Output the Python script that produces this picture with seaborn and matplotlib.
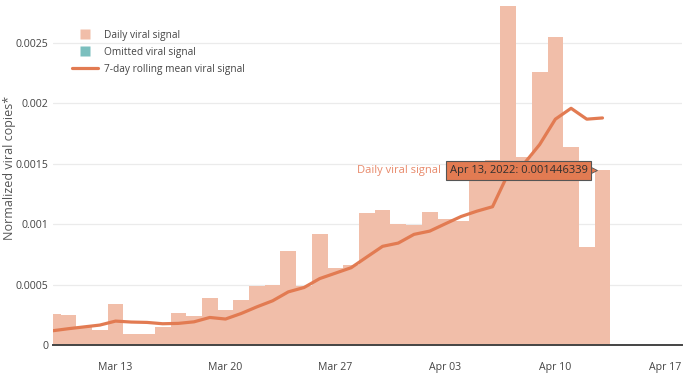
import matplotlib
matplotlib.use("Agg")
import matplotlib.pyplot as plt
import matplotlib.transforms as mtransforms
from matplotlib.lines import Line2D
import seaborn as sns
import pandas as pd

# daily values, Mar 9 .. Apr 13 2022
start = "2022-03-09"
daily_signal = [0.000256, 0.000248, 0.00015, 0.000125, 0.00034, 0.00009, 0.00009,
                0.00015, 0.000263, 0.00024, 0.00039, 0.00029, 0.00037, 0.00049,
                0.0005, 0.00078, 0.00049, 0.00092, 0.00064, 0.000665, 0.00109,
                0.00112, 0.001, 0.00099, 0.0011, 0.00104, 0.00103, 0.00144,
                0.00153, 0.00281, 0.00156, 0.00226, 0.00255, 0.00164, 0.00081,
                0.001446339]
rolling_mean = [0.000118, 0.000135, 0.00015, 0.000165, 0.000198, 0.00019, 0.000187,
                0.000176, 0.000179, 0.000192, 0.000228, 0.000215, 0.000261, 0.000316,
                0.000366, 0.00044, 0.000476, 0.00055, 0.000595, 0.00064, 0.000729,
                0.000817, 0.000844, 0.000916, 0.000943, 0.001004, 0.001064, 0.001108,
                0.001145, 0.00142, 0.0015, 0.00166, 0.00187, 0.00196, 0.00187,
                0.00188]
x_ticks = ["2022-03-13", "2022-03-20", "2022-03-27", "2022-04-03", "2022-04-10", "2022-04-17"]
x_labels = ["Mar 13", "Mar 20", "Mar 27", "Apr 03", "Apr 10", "Apr 17"]
y_ticks = [0, 0.0005, 0.001, 0.0015, 0.002, 0.0025]
y_labels = ["0", "0.0005", "0.001", "0.0015", "0.002", "0.0025"]

dates = pd.date_range(start, periods=len(daily_signal), freq="D")
df = pd.DataFrame({"date": dates, "daily": daily_signal, "mean7": rolling_mean})
df["day"] = (df["date"] - pd.Timestamp(start)).dt.days
tick_pos = (pd.to_datetime(x_ticks) - pd.Timestamp(start)).days

sns.set_style("white")
plt.rcParams["font.family"] = ["Open Sans", "DejaVu Sans"]

bar_col = "#f1bea9"
line_col = "#e27b52"
teal = "#7bbfbe"
txt = "#444444"

fig = plt.figure(figsize=(6.88, 3.80), dpi=100)
ax = fig.add_axes([0.0766, 0.0921, 0.9144, 0.9026])

sns.barplot(data=df, x="day", y="daily", native_scale=True, width=1,
            color=bar_col, saturation=1, linewidth=0, ax=ax)
sns.lineplot(data=df, x="day", y="mean7", color=line_col, linewidth=2.3, ax=ax)

ax.set_xlim(0, 40.05)
ax.set_ylim(0, 0.00284)
ax.set_xticks(tick_pos)
ax.set_xticklabels(x_labels)
ax.set_yticks(y_ticks)
ax.set_yticklabels(y_labels)
ax.tick_params(axis="both", length=0, labelsize=7.6, labelcolor=txt)
ax.tick_params(axis="x", pad=12)
ax.tick_params(axis="y", pad=3)
ax.set_xlabel("")
ax.set_ylabel("Normalized viral copies*", fontsize=9, color="#555555")
ax.yaxis.set_label_coords(-0.058, 0.515)
ax.yaxis.grid(True, color="#ebebeb", linewidth=0.9)
ax.set_axisbelow(True)
for s in ["top", "right", "left"]:
    ax.spines[s].set_visible(False)
ax.spines["bottom"].set_color("#444444")
ax.spines["bottom"].set_linewidth(1.4)
ax.spines["bottom"].set_zorder(5)

handles = [Line2D([], [], linestyle="none", marker="s", markersize=7,
                  markerfacecolor=bar_col, markeredgecolor="none"),
           Line2D([], [], linestyle="none", marker="s", markersize=7,
                  markerfacecolor=teal, markeredgecolor="none"),
           Line2D([], [], color=line_col, linewidth=2.3)]
labels = ["Daily viral signal", "Omitted viral signal", "7-day rolling mean viral signal"]
leg = ax.legend(handles, labels, loc="upper left", bbox_to_anchor=(0.1047, 0.922),
                bbox_transform=fig.transFigure, frameon=False, fontsize=7.3,
                labelcolor=txt, handlelength=2.6, handleheight=0.9,
                handletextpad=0.6, labelspacing=0.62, borderaxespad=0,
                borderpad=0)

# hover tooltip on the Apr 13 bar
hx = df["day"].iloc[-1]
hy = df["daily"].iloc[-1]
ax.annotate("Apr 13, 2022: 0.001446339", xy=(hx, hy), xytext=(-15, 0),
            textcoords="offset pixels", ha="right", va="center", fontsize=8,
            color="#2f2f2f", zorder=10,
            bbox=dict(boxstyle="square,pad=0.35", facecolor=line_col,
                      edgecolor="#555555", linewidth=0.8))
tip = mtransforms.offset_copy(ax.transData, fig=fig, x=-9.5, y=0, units="dots")
ax.plot([hx], [hy], marker=">", markersize=6, color=line_col,
        markeredgecolor="#555555", markeredgewidth=0.6, transform=tip,
        zorder=9, clip_on=False)
ax.annotate("Daily viral signal", xy=(hx, hy), xytext=(-162, 0),
            textcoords="offset pixels", ha="right", va="center", fontsize=8,
            color="#e8896a", zorder=10)

fig.savefig("out.png", dpi=100)
